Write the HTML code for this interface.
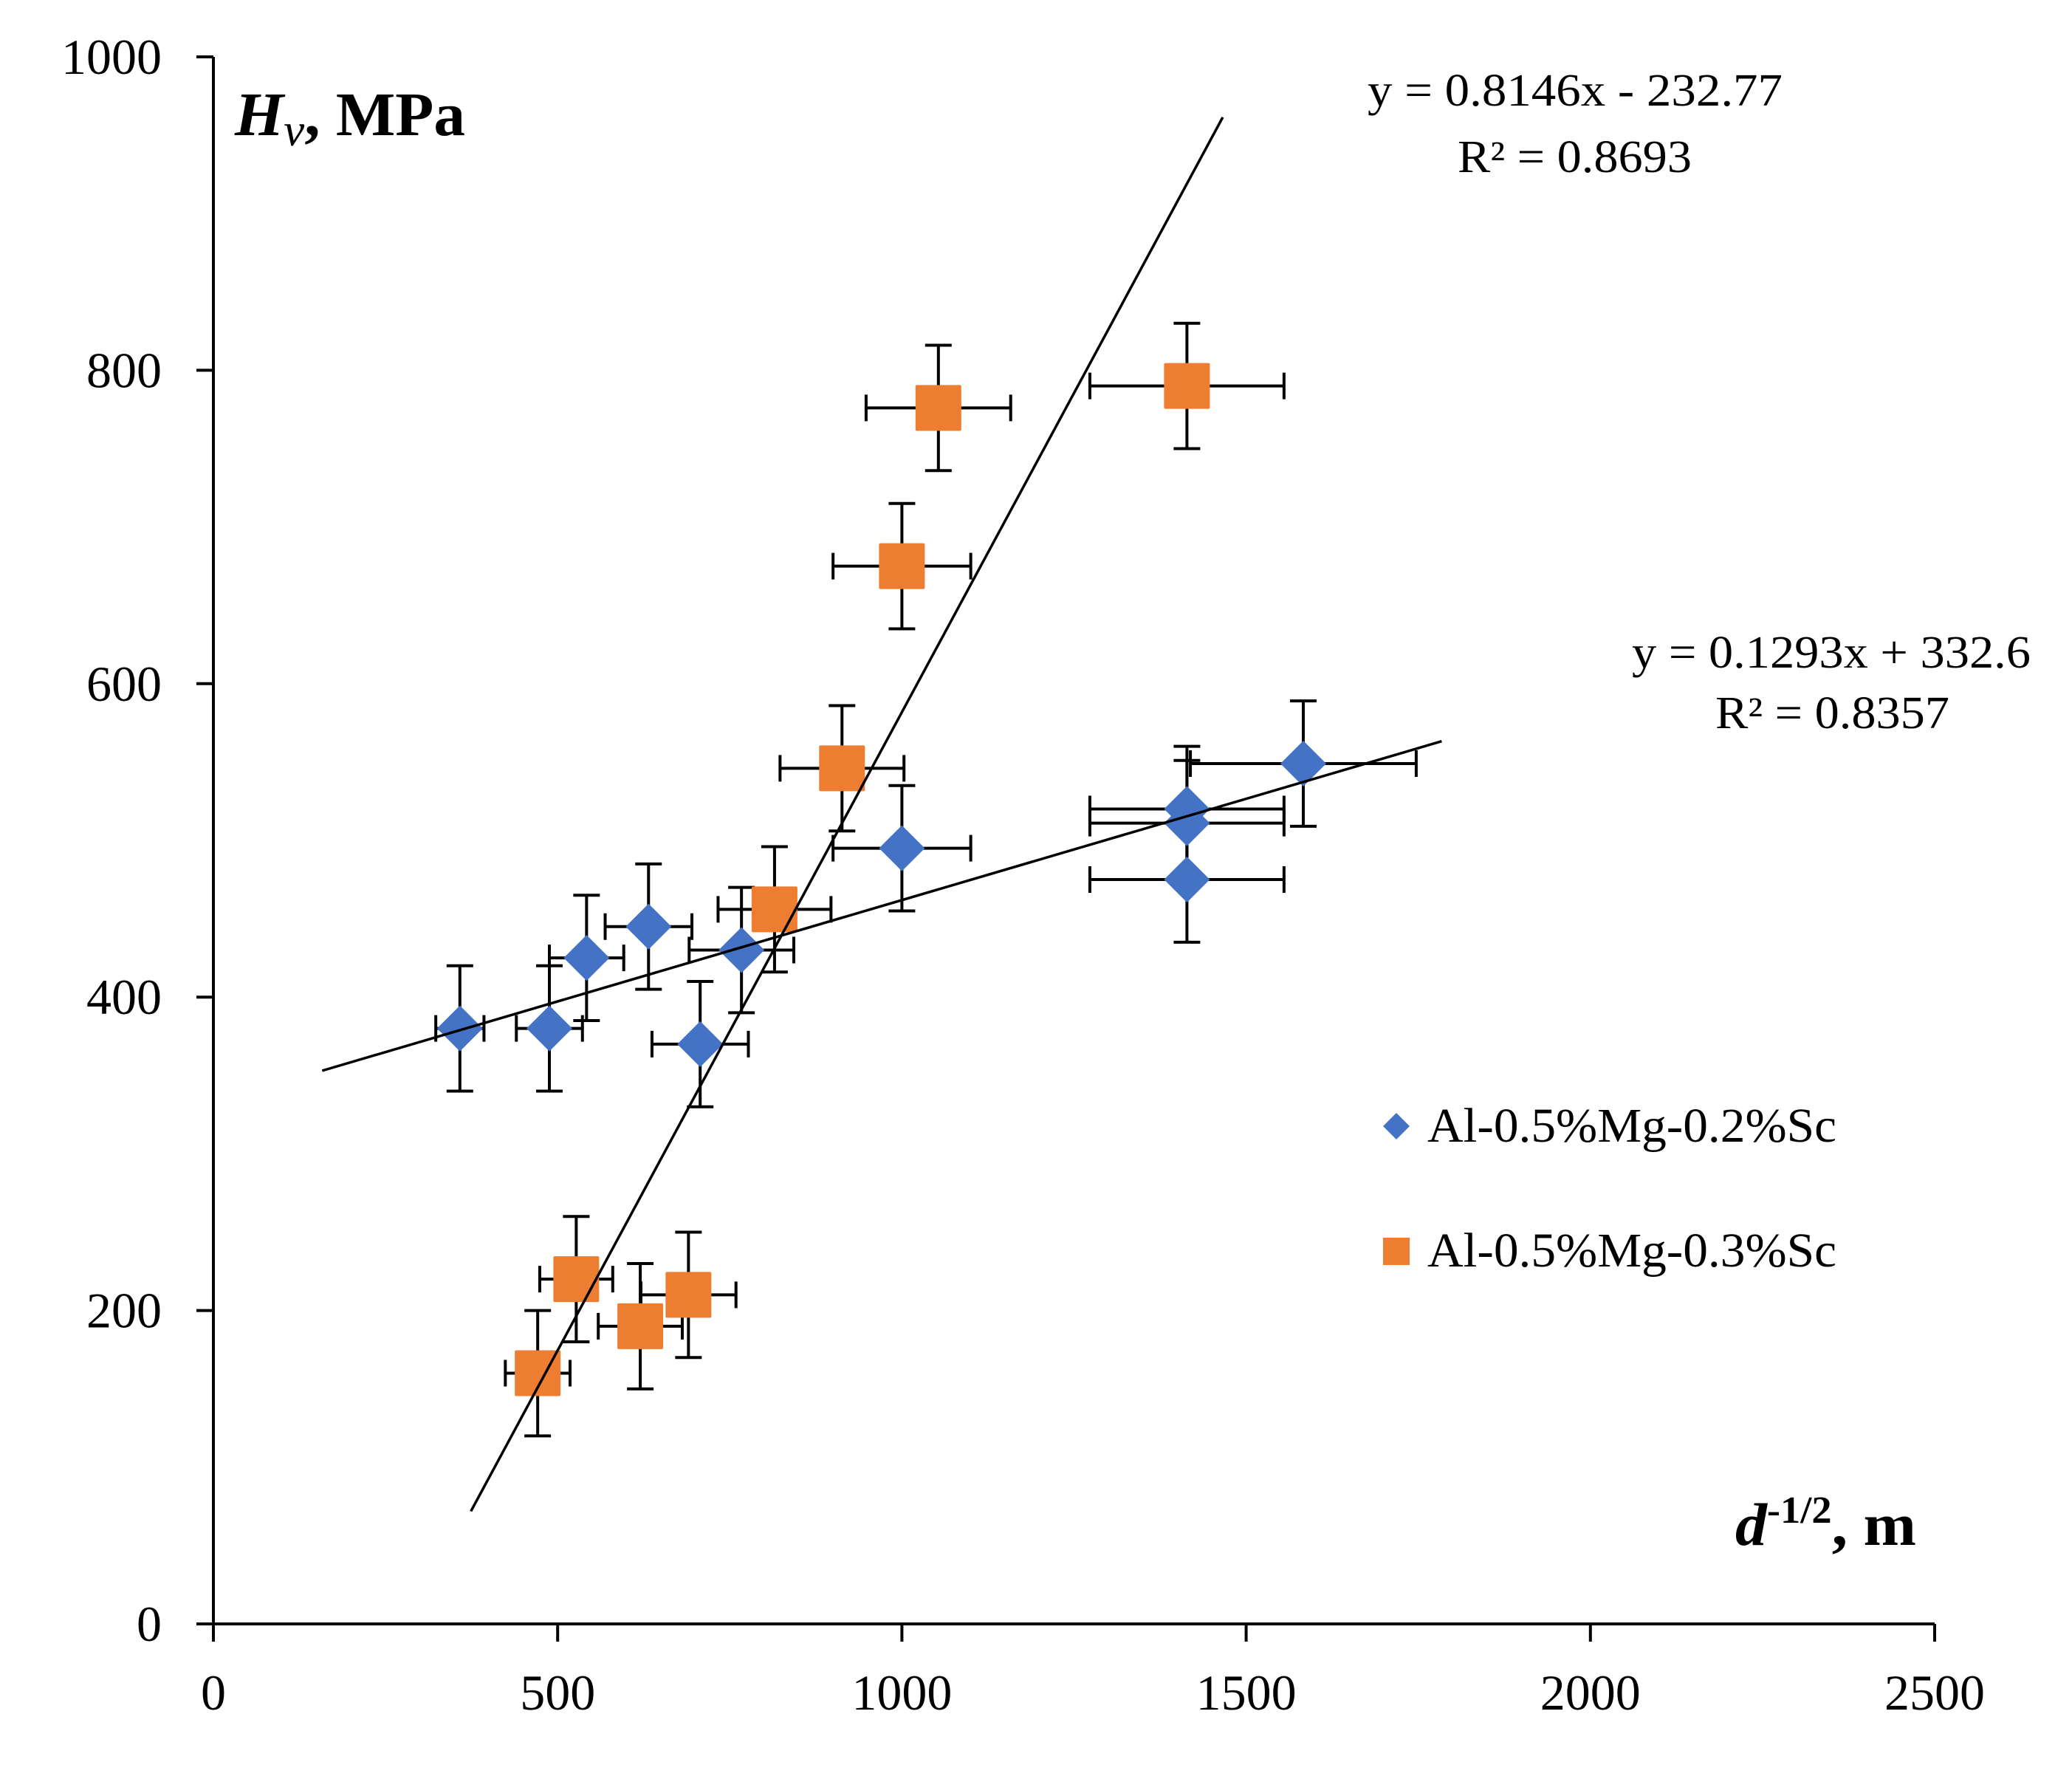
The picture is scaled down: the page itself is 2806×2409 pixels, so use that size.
<!DOCTYPE html>
<html><head><meta charset="utf-8">
<style>
html,body{margin:0;padding:0;background:#fff;}
svg{display:block;font-family:"Liberation Serif",serif;}
</style></head>
<body>
<svg id="chart" width="2806" height="2409" viewBox="0 0 2806 2409" xmlns="http://www.w3.org/2000/svg">
<rect width="2806" height="2409" fill="#fff"/>
<g id="errbars"></g>
<g id="markers"></g>
<g id="trends"></g>
<g id="axes"></g>
<text x="318" y="183" font-size="84" textLength="312" lengthAdjust="spacingAndGlyphs"><tspan font-style="italic" font-weight="bold">H</tspan><tspan font-style="italic" font-size="62" dy="14">v</tspan><tspan font-weight="bold" dy="-14">, MPa</tspan></text>
<text x="2350" y="2092" font-size="82" textLength="245" lengthAdjust="spacingAndGlyphs" font-weight="bold"><tspan font-style="italic">d</tspan><tspan font-size="52" dy="-30">-1/2</tspan><tspan dy="30">, m</tspan></text>
<text x="1852" y="143" font-size="62" textLength="562" lengthAdjust="spacingAndGlyphs">y = 0.8146x - 232.77</text>
<text x="1974" y="233" font-size="62" textLength="317" lengthAdjust="spacingAndGlyphs">R² = 0.8693</text>
<text x="2210" y="904" font-size="62" textLength="540" lengthAdjust="spacingAndGlyphs">y = 0.1293x + 332.6</text>
<text x="2323" y="986" font-size="62" textLength="317" lengthAdjust="spacingAndGlyphs">R² = 0.8357</text>
<g>
<polygon points="1891,1507 1909,1525 1891,1543 1873,1525" fill="#4472C4"/>
<text x="1933" y="1546" font-size="66" textLength="554" lengthAdjust="spacingAndGlyphs">Al-0.5%Mg-0.2%Sc</text>
<rect x="1873" y="1676" width="36" height="37" fill="#ED7D31"/>
<text x="1933" y="1715" font-size="66" textLength="554" lengthAdjust="spacingAndGlyphs">Al-0.5%Mg-0.3%Sc</text>
</g>
</svg>
<script>
const xTicks = [0, 500, 1000, 1500, 2000, 2500];
const yTicks = [0, 200, 400, 600, 800, 1000];
const blueX  = [358, 488, 542, 632, 707, 767, 1000, 1414, 1414, 1414, 1583];
const blueY  = [380, 380, 425, 445, 370, 430, 495, 520, 511, 475, 549];
const blueXErr = [35, 48, 54, 63, 70, 76, 100, 141, 141, 141, 164];
const blueYErr = [40, 40, 40, 40, 40, 40, 40, 40, 40, 40, 40];
const orangeX = [471, 527, 620, 690, 815, 913, 1000, 1053, 1414];
const orangeY = [160, 220, 190, 210, 456, 546, 675, 776, 790];
const orangeXErr = [47, 53, 61, 69, 82, 90, 100, 105, 141];
const orangeYErr = [40, 40, 40, 40, 40, 40, 40, 40, 40];
const orangeTrend = [0.8146, -232.77, 374, 1466];
const blueTrend = [0.1293, 332.6, 158, 1784];

const NS = 'http://www.w3.org/2000/svg';
const X0 = 289, X1 = 2620, Y0 = 2199, Y1 = 77;
const sx = v => X0 + v / 2500 * (X1 - X0);
const sy = v => Y0 - v / 1000 * (Y0 - Y1);
function mk(tag, parent, attrs) {
  const e = document.createElementNS(NS, tag);
  for (const k in attrs) e.setAttribute(k, attrs[k]);
  parent.appendChild(e);
  return e;
}
const axes = document.getElementById('axes');
let l = mk('line', axes, {x1: X0, y1: Y0, x2: X1, y2: Y0, stroke: '#000', 'stroke-width': 4});


l = mk('line', axes, {x1: X0, y1: Y0, x2: X0, y2: Y1, stroke: '#000', 'stroke-width': 4});


xTicks.forEach(t => {
  const tk = mk('line', axes, {x1: sx(t), y1: Y0, x2: sx(t), y2: Y0 + 24, stroke: '#000', 'stroke-width': 4});
  
  
  const tx = mk('text', axes, {x: sx(t), y: 2315, 'font-size': 68, 'text-anchor': 'middle'});
  tx.textContent = t;
  
  
});
yTicks.forEach(t => {
  const tk = mk('line', axes, {x1: X0 - 23, y1: sy(t), x2: X0, y2: sy(t), stroke: '#000', 'stroke-width': 4});
  
  
  const tx = mk('text', axes, {x: 219, y: sy(t) + 23, 'font-size': 68, 'text-anchor': 'end'});
  tx.textContent = t;
  
  
});
const eb = document.getElementById('errbars');
function errbars(xs, ys, xe, ye) {
  xs.forEach((x, i) => {
    const cx = sx(x), cy = sy(ys[i]);
    const xa = sx(x - xe[i]), xb = sx(x + xe[i]);
    const ya = sy(ys[i] + ye[i]), yb = sy(ys[i] - ye[i]);
    const p = mk('path', eb, {d: `M${xa},${cy}H${xb}M${xa},${cy-18}V${cy+18}M${xb},${cy-18}V${cy+18}M${cx},${ya}V${yb}M${cx-18},${ya}H${cx+18}M${cx-18},${yb}H${cx+18}`, stroke: '#000', 'stroke-width': 4, fill: 'none'});
    
    
  });
}
errbars(blueX, blueY, blueXErr, blueYErr);
errbars(orangeX, orangeY, orangeXErr, orangeYErr);
const mg = document.getElementById('markers');
blueX.forEach((x, i) => {
  const cx = sx(x), cy = sy(blueY[i]);
  const d = mk('polygon', mg, {points: `${cx},${cy-31} ${cx+31},${cy} ${cx},${cy+31} ${cx-31},${cy}`, fill: '#4472C4'});
  
  
});
orangeX.forEach((x, i) => {
  const cx = sx(x), cy = sy(orangeY[i]);
  const r = mk('rect', mg, {x: cx - 31, y: cy - 31, width: 62, height: 62, rx: 2, fill: '#ED7D31'});
  
  
});
const tg = document.getElementById('trends');
[[orangeTrend, 'trendline-orange'], [blueTrend, 'trendline-blue']].forEach(([t, n]) => {
  const [m, b, xa, xb] = t;
  const ln = mk('line', tg, {x1: sx(xa), y1: sy(m * xa + b), x2: sx(xb), y2: sy(m * xb + b), stroke: '#000', 'stroke-width': 3.5});
  
  
});
</script>
</body></html>
